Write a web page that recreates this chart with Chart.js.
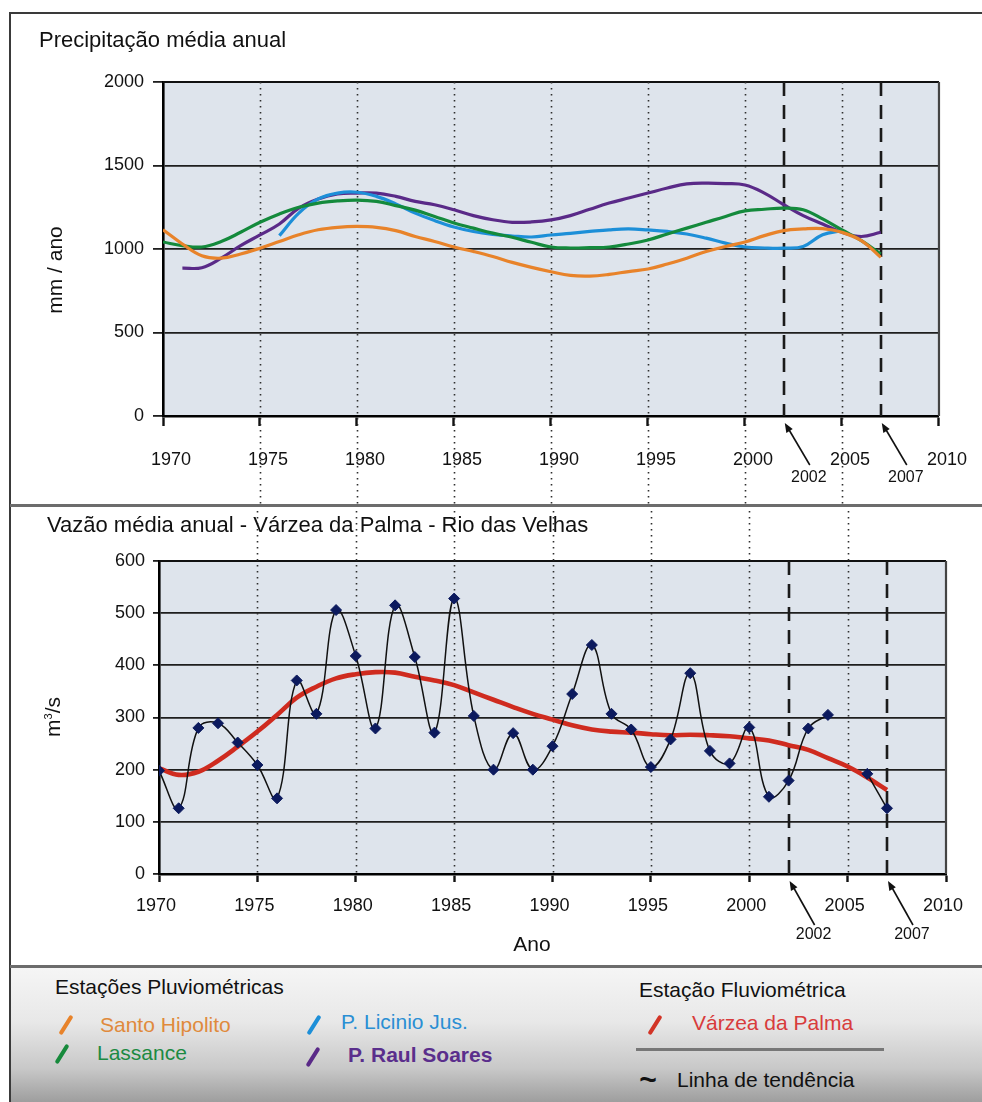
<!DOCTYPE html>
<html lang="pt">
<head>
<meta charset="utf-8">
<title>Precipitação e vazão média anual</title>
<script src="https://cdn.jsdelivr.net/npm/chart.js@4.4.1/dist/chart.umd.min.js"></script>
<style>
  html, body { margin: 0; padding: 0; background: #fff; }
  body {
    width: 982px; height: 1102px; position: relative; overflow: hidden;
    font-family: 'Liberation Sans', Arial, Helvetica, sans-serif; color: #111;
  }
  canvas { position: absolute; left: 0; }
  #precip { top: 0; }
  #vazao { top: 505px; }
  .frame-left { position: absolute; left: 9px; top: 12px; width: 2px; height: 1090px; background: #3a3a3a; z-index: 3; }
  .frame-top { position: absolute; left: 9px; top: 12px; right: 0; height: 2px; background: #3a3a3a; z-index: 3; }
  .divider { position: absolute; left: 10px; right: 0; height: 3px; background: #6c6c6c; z-index: 3; }
  .title { position: absolute; font-size: 22px; line-height: 1; white-space: nowrap; z-index: 2; }
  .axis-title { position: absolute; font-size: 21px; line-height: 1; white-space: nowrap; z-index: 2; }
  .rot { transform: translate(-50%, -50%) rotate(-90deg); }
  .ctr { transform: translate(-50%, -50%); }
  .legend {
    position: absolute; left: 11px; top: 968px; right: 0; bottom: 0;
    background: linear-gradient(to bottom, #f5f5f5 0%, #e8e8e8 40%, #c8c8c8 75%, #9e9e9e 100%);
  }
  .lg { position: absolute; font-size: 21px; line-height: 1; white-space: nowrap; }
  .ico { position: absolute; width: 4px; height: 22px; border-radius: 2px; transform: translate(-50%, -50%) rotate(32deg); }
</style>
</head>
<body>
<canvas id="precip" width="982" height="505"></canvas>
<canvas id="vazao" width="982" height="461"></canvas>

<div class="frame-left"></div>
<div class="frame-top"></div>
<div class="divider" style="top:504px"></div>
<div class="divider" style="top:965px"></div>

<div class="title" style="left:39px; top:29px">Precipitação média anual</div>
<div class="title" style="left:47px; top:514px">Vazão média anual - Várzea da Palma - Rio das Velhas</div>

<div class="axis-title rot" style="left:54px; top:270px">mm / ano</div>
<div class="axis-title rot" style="left:52px; top:717px">m<sup style="font-size:11px">3</sup>/s</div>
<div class="axis-title ctr" style="left:532px; top:943px">Ano</div>

<div class="legend">
  <div class="lg" style="left:44px; top:8px">Estações Pluviométricas</div>

  <div class="ico" style="left:55px; top:57px; background:#e8832a"></div>
  <div class="lg" style="left:89px; top:46px; color:#e08a3c">Santo Hipolito</div>

  <div class="ico" style="left:51px; top:86px; background:#178a3c"></div>
  <div class="lg" style="left:86px; top:74px; color:#1c8a42">Lassance</div>

  <div class="ico" style="left:303px; top:57px; background:#1d8fd8"></div>
  <div class="lg" style="left:330px; top:43px; color:#2a8fd4">P. Licinio Jus.</div>

  <div class="ico" style="left:302px; top:89px; background:#5a2a88"></div>
  <div class="lg" style="left:337px; top:76px; color:#5a2e8c; font-weight:bold">P. Raul Soares</div>

  <div class="lg" style="left:628px; top:11px">Estação Fluviométrica</div>
  <div class="ico" style="left:644px; top:57px; background:#d23426"></div>
  <div class="lg" style="left:681px; top:44px; color:#d83c3c">Várzea da Palma</div>

  <div style="position:absolute; left:625px; top:80px; width:248px; height:3px; background:#777"></div>

  <div class="lg ctr" style="left:637px; top:112px; font-weight:bold; font-size:30px">~</div>
  <div class="lg" style="left:666px; top:101px">Linha de tendência</div>
</div>

<script>
Chart.defaults.font.family = "'Liberation Sans', Arial, Helvetica, sans-serif";
Chart.defaults.color = '#111';

// Anos da série (1970–2007)
const years = [
  1970, 1971, 1972, 1973, 1974, 1975, 1976, 1977, 1978, 1979,
  1980, 1981, 1982, 1983, 1984, 1985, 1986, 1987, 1988, 1989,
  1990, 1991, 1992, 1993, 1994, 1995, 1996, 1997, 1998, 1999,
  2000, 2001, 2002, 2003, 2004, 2005, 2006, 2007
];

// Precipitação média anual (mm/ano) – médias móveis por estação
const santoHipolito = [
  1115, 1030, 960, 945, 970, 1005, 1045, 1085, 1115, 1130,
  1135, 1130, 1110, 1075, 1045, 1012, 985, 955, 920, 890,
  864, 842, 838, 848, 865, 880, 910, 945, 985, 1015,
  1042, 1080, 1110, 1120, 1122, 1100, 1050, 950
];
const lassance = [
  1042, 1020, 1012, 1045, 1100, 1160, 1210, 1250, 1275, 1288,
  1293, 1285, 1260, 1233, 1195, 1156, 1125, 1095, 1070, 1040,
  1012, 1006, 1008, 1012, 1030, 1054, 1090, 1125, 1160, 1195,
  1228, 1238, 1245, 1235, 1180, 1114, 1050, 970
];
const licinioJus = [
  null, null, null, null, null, null, 1080, 1215, 1300, 1335,
  1340, 1315, 1270, 1215, 1170, 1132, 1105, 1088, 1078, 1072,
  1084, 1094, 1105, 1115, 1120, 1114, 1105, 1090, 1065, 1035,
  1012, 1006, 1005, 1015, 1085, 1110, null, null
];
const raulSoares = [
  null, 886, 888, 945, 1020, 1084, 1150, 1245, 1300, 1330,
  1335, 1335, 1315, 1285, 1265, 1235, 1200, 1175, 1160, 1162,
  1174, 1200, 1238, 1275, 1305, 1335, 1365, 1390, 1395, 1392,
  1383, 1335, 1265, 1200, 1150, 1100, 1075, 1100
];

// Vazão média anual em Várzea da Palma (m³/s) e linha de tendência
const vazao = [
  198, 126, 280, 289, 252, 209, 145, 371, 307, 506,
  418, 279, 515, 416, 271, 528, 303, 200, 270, 200,
  245, 345, 439, 307, 277, 205, 258, 385, 236, 212,
  281, 148, 179, 279, 305, null, 192, 126
];
const tendencia = [
  203, 190, 196, 217, 244, 273, 305, 338, 359, 375,
  383, 387, 386, 378, 371, 362, 348, 334, 320, 307,
  296, 285, 277, 273, 271, 268, 266, 267, 266, 264,
  260, 256, 247, 238, 222, 206, 185, 161
];

// Eixo dos anos: marcas a cada 5 anos e anos destacados
const yearMin = 1970, yearMax = 2010, yearStep = 5;
const guideYears = [1975, 1980, 1985, 1990, 1995, 2000, 2005];
const markerYears = [2002, 2007];

const pairs = (vals) => years.map((yr, i) => ({ x: yr, y: vals[i] }));

// Fundo da área de plotagem, linhas pontilhadas de 5 em 5 anos,
// linhas tracejadas dos anos destacados e setas com rótulos.
const panelDecor = {
  id: 'panelDecor',
  beforeDraw(chart, _args, opts) {
    const { ctx, chartArea: ca } = chart;
    ctx.save();
    ctx.fillStyle = opts.plotBg;
    ctx.fillRect(ca.left, ca.top, ca.right - ca.left, ca.bottom - ca.top);
    ctx.restore();
  },
  beforeDatasetsDraw(chart, _args, opts) {
    const { ctx, chartArea: ca, scales: { x } } = chart;
    ctx.save();
    ctx.lineWidth = 2.2;
    ctx.strokeStyle = '#111';
    ctx.beginPath(); ctx.moveTo(ca.left, ca.top); ctx.lineTo(ca.right, ca.top); ctx.stroke();
    ctx.strokeStyle = '#444';
    ctx.beginPath(); ctx.moveTo(ca.right, ca.top); ctx.lineTo(ca.right, ca.bottom); ctx.stroke();

    const g0 = opts.guidesAbove ? 0 : ca.top;
    const g1 = opts.guidesAbove ? ca.bottom : chart.height;
    ctx.strokeStyle = '#2e2e2e';
    ctx.lineWidth = 1.6;
    ctx.setLineDash([1.6, 4.4]);
    guideYears.forEach(yr => {
      const px = Math.round(x.getPixelForValue(yr)) + 0.5;
      ctx.beginPath(); ctx.moveTo(px, g0); ctx.lineTo(px, g1); ctx.stroke();
    });

    ctx.setLineDash([14, 9]);
    ctx.lineWidth = 2.6;
    ctx.strokeStyle = '#1a1a1a';
    markerYears.forEach(yr => {
      const px = Math.round(x.getPixelForValue(yr));
      ctx.beginPath(); ctx.moveTo(px, ca.top); ctx.lineTo(px, ca.bottom); ctx.stroke();
    });
    ctx.restore();
  },
  afterDraw(chart, _args, opts) {
    const { ctx, chartArea: ca, scales: { x } } = chart;
    ctx.save();
    ctx.strokeStyle = '#111';
    ctx.fillStyle = '#111';
    ctx.lineWidth = 1.6;
    ctx.font = "16px 'Liberation Sans', Arial, sans-serif";
    ctx.textAlign = 'center';
    ctx.textBaseline = 'middle';
    markerYears.forEach(yr => {
      const hx = x.getPixelForValue(yr) + 1, hy = ca.bottom + 7;
      const tx = hx + 25, ty = ca.bottom + opts.arrowDrop;
      ctx.beginPath(); ctx.moveTo(tx, ty); ctx.lineTo(hx + 2, hy + 3); ctx.stroke();
      const ang = Math.atan2(hy - ty, hx - tx);
      const len = 10, spread = 0.38;
      ctx.beginPath();
      ctx.moveTo(hx, hy);
      ctx.lineTo(hx - len * Math.cos(ang - spread), hy - len * Math.sin(ang - spread));
      ctx.lineTo(hx - len * Math.cos(ang + spread), hy - len * Math.sin(ang + spread));
      ctx.closePath();
      ctx.fill();
      ctx.fillText(String(yr), hx + 24, ca.bottom + opts.labelDrop);
    });
    ctx.restore();
  }
};

function yearAxis(tickLen, pad, offset, height) {
  return {
    type: 'linear', min: yearMin, max: yearMax,
    afterFit: (s) => { s.height = height; },
    ticks: {
      stepSize: yearStep, padding: pad, labelOffset: offset,
      font: { size: 18 }, color: '#111',
      callback: (v) => String(v)
    },
    grid: {
      drawOnChartArea: false, drawTicks: true, tickLength: tickLen,
      tickColor: '#111', tickWidth: 2.4
    },
    border: { display: true, color: '#000', width: 2.6 }
  };
}

function valueAxis(max, step, width, tickLen, pad) {
  return {
    min: 0, max: max,
    afterFit: (s) => { s.width = width; },
    ticks: {
      stepSize: step, padding: pad, font: { size: 18 }, color: '#111',
      callback: (v) => String(v)
    },
    grid: { color: '#1e1e1e', lineWidth: 1.8, tickLength: tickLen, tickColor: '#1e1e1e', tickWidth: 1.8 },
    border: { display: true, color: '#000', width: 2.6 }
  };
}

const line = (label, vals, color, width, order) => ({
  label, data: pairs(vals), borderColor: color, backgroundColor: color,
  borderWidth: width, pointRadius: 0, tension: 0.4, fill: false, order
});

new Chart(document.getElementById('precip'), {
  type: 'line',
  data: {
    datasets: [
      line('P. Raul Soares', raulSoares, '#5a2a88', 3.2, 4),
      line('P. Licinio Jus.', licinioJus, '#1d8fd8', 3.2, 3),
      line('Lassance', lassance, '#148a3c', 3.2, 2),
      line('Santo Hipolito', santoHipolito, '#e8832a', 3.2, 1)
    ]
  },
  options: {
    responsive: false, animation: false, devicePixelRatio: 1, events: [],
    layout: { padding: { top: 82, right: 36, left: 0, bottom: 0 } },
    scales: {
      x: yearAxis(10, 23, 8, 89),
      y: valueAxis(2000, 500, 163, 10, 9)
    },
    plugins: {
      legend: { display: false }, tooltip: { enabled: false },
      panelDecor: { plotBg: '#dee4ec', guidesAbove: false, arrowDrop: 49, labelDrop: 62 }
    }
  },
  plugins: [panelDecor]
});

new Chart(document.getElementById('vazao'), {
  type: 'line',
  data: {
    datasets: [
      line('Várzea da Palma (tendência)', tendencia, '#cf2b1f', 4.6, 2),
      {
        label: 'Várzea da Palma', data: pairs(vazao),
        borderColor: '#111', borderWidth: 1.5, tension: 0.4, spanGaps: false,
        pointStyle: 'rectRot', pointRadius: 5.5,
        pointBackgroundColor: '#0c1a5e', pointBorderColor: '#0c1a5e', pointBorderWidth: 1,
        order: 1
      }
    ]
  },
  options: {
    responsive: false, animation: false, devicePixelRatio: 1, events: [],
    layout: { padding: { top: 56, right: 36, left: 0, bottom: 0 } },
    scales: {
      x: yearAxis(8, 13, -3, 92),
      y: valueAxis(600, 100, 159, 6, 8)
    },
    plugins: {
      legend: { display: false }, tooltip: { enabled: false },
      panelDecor: { plotBg: '#dee4ec', guidesAbove: true, arrowDrop: 51, labelDrop: 61 }
    }
  },
  plugins: [panelDecor]
});
</script>
</body>
</html>
